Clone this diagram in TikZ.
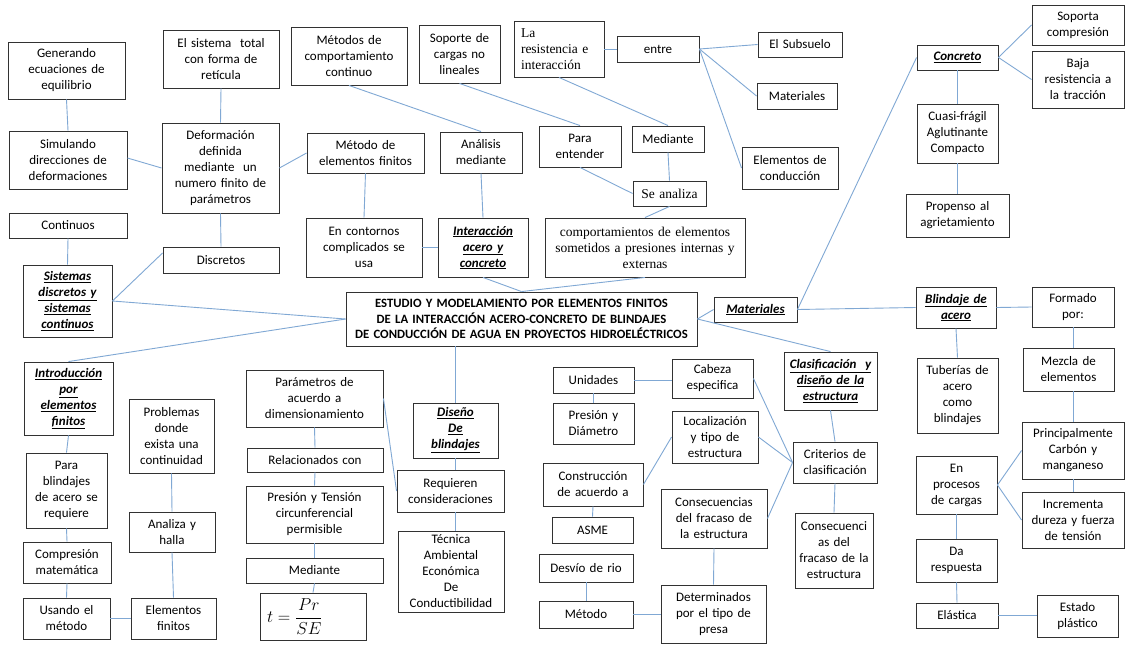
\documentclass[tikz,border=0pt]{standalone}
\usepackage{fontspec}
\setmainfont{Carlito}
\newfontfamily\serifbox{Liberation Serif}
\usetikzlibrary{calc}
\definecolor{lineblue}{RGB}{128,168,212}
\definecolor{boxline}{RGB}{50,50,50}
\tikzset{
  box/.style={draw=boxline,line width=0.9pt,fill=white,align=center,inner xsep=2pt,inner ysep=1pt,
    font=\fontsize{13}{16}\selectfont},
  topic/.style={font=\fontsize{13}{16}\selectfont\bfseries\itshape},
  serifb/.style={font=\fontsize{13.5}{16}\selectfont\serifbox},
  conn/.style={draw=lineblue,line width=0.9pt},
}
\newcommand\mybox[7][]{%
  \pgfmathsetmacro\bxw{#5-#3}%
  \pgfmathsetmacro\bxh{#6-#4}%
  \pgfmathsetmacro\bxt{#5-#3-4}%
  \node[box,minimum width=\bxw pt,minimum height=\bxh pt,text width=\bxt pt,#1] (#2) at ({(#3+#5)/2},{(#4+#6)/2}) {#7};}
\begin{document}
\begin{tikzpicture}[x=1pt,y=-1pt]
\fill[white] (0,0) rectangle (1125,646);
\useasboundingbox (0,0) rectangle (1125,646);
% ---- nodes
\mybox{gen}{8}{42}{125}{99}{Generando\\ecuaciones de\\equilibrio}
\mybox{sist}{163}{30}{279}{88}{El sistema\ \ total\\con forma de\\retícula}
\mybox{metc}{291}{27}{407}{85}{Métodos de\\comportamiento\\continuo}
\mybox{sim}{9}{131}{127}{189}{Simulando\\direcciones de\\deformaciones}
\mybox{def}{162}{123}{279}{213}{Deformación\\definida\\mediante\ \ un\\numero finito de\\parámetros}
\mybox{mef}{307}{133}{424}{173}{Método de\\elementos finitos}
\mybox{cont}{9}{213}{127}{238}{Continuos}
\mybox{disc}{163}{247}{279}{273}{Discretos}
\mybox{encont}{306}{218}{422}{277}{En contornos\\complicados se\\usa}
\mybox[topic]{sisd}{23}{265}{112}{337}{\underline{Sistemas}\\\underline{discretos y}\\\underline{sistemas}\\\underline{continuos}}
\mybox[font=\fontsize{12.7}{15.3}\selectfont\bfseries]{title}{346}{292}{697}{346}{ESTUDIO Y MODELAMIENTO POR ELEMENTOS FINITOS\\DE LA INTERACCIÓN ACERO-CONCRETO DE BLINDAJES\\DE CONDUCCIÓN DE AGUA EN PROYECTOS HIDROELÉCTRICOS}
\mybox{sop}{419}{25}{500}{83}{Soporte de\\cargas no\\lineales}
\mybox[serifb,align=left,inner xsep=7pt,text width=76pt]{lares}{514}{21}{604}{77}{La\\resistencia e\\interacción}
\mybox{entre}{617}{36}{699}{62}{entre}
\mybox{anal}{440}{132}{522}{173}{Análisis\\mediante}
\mybox{para}{539}{126}{621}{167}{Para\\entender}
\mybox{medi}{632}{126}{704}{152}{Mediante}
\mybox[serifb]{sean}{633}{181}{706}{206}{Se analiza}
\mybox[topic]{inter}{438}{218}{528}{277}{\underline{Interacción}\\\underline{acero y}\\\underline{concreto}}
\mybox[serifb]{comp}{545}{218}{745}{277}{comportamientos\ de elementos\\sometidos\ a presiones internas y\\externas}
\mybox{subs}{758}{32}{842}{57}{El Subsuelo}
\mybox{matl}{757}{83}{837}{109}{Materiales}
\mybox{elcond}{742}{147}{838}{189}{Elementos de\\conducción}
\mybox[topic]{mat}{714}{297}{797}{322}{\underline{Materiales}}
% right
\mybox[topic]{conc}{917}{45}{998}{70}{\underline{Concreto}}
\mybox{sopc}{1032}{5}{1124}{45}{Soporta\\compresión}
\mybox{baja}{1032}{51}{1124}{108}{Baja\\resistencia a\\la tracción}
\mybox{cuasi}{917}{104}{998}{163}{Cuasi-frágil\\Aglutinante\\Compacto}
\mybox{prop}{906}{194}{1009}{237}{Propenso al\\agrietamiento}
\mybox[topic]{blin}{916}{287}{996}{328}{\underline{Blindaje de}\\\underline{acero}}
\mybox{form}{1032}{287}{1114}{327}{Formado\\por:}
\mybox{tub}{917}{358}{998}{433}{Tuberías de\\acero\\como\\blindajes}
\mybox{mezc}{1023}{348}{1114}{391}{Mezcla de\\elementos}
\mybox{princ}{1022}{422}{1124}{479}{Principalmente\\Carbón y\\manganeso}
\mybox{incr}{1022}{492}{1124}{548}{Incrementa\\dureza y fuerza\\de tensión}
\mybox{enproc}{916}{456}{997}{514}{En\\procesos\\de cargas}
\mybox{da}{916}{539}{997}{582}{Da\\respuesta}
\mybox{elas}{916}{603}{998}{628}{Elástica}
\mybox{estp}{1037}{595}{1118}{637}{Estado\\plástico}
% middle right
\mybox[topic]{clas}{784}{352}{877}{410}{\underline{Clasificación\ \ y}\\\underline{diseño de la}\\\underline{estructura}}
\mybox{crit}{793}{442}{877}{483}{Criterios de\\clasificación}
\mybox{cons2}{795}{513}{873}{588}{Consecuenci\\as del\\fracaso de la\\estructura}
\mybox{unid}{553}{367}{634}{393}{Unidades}
\mybox{presd}{553}{403}{634}{444}{Presión y\\Diámetro}
\mybox{cab}{672}{359}{753}{398}{Cabeza\\especifica}
\mybox{loc}{672}{411}{758}{463}{Localización\\y tipo de\\estructura}
\mybox{constr}{543}{463}{643}{506}{Construcción\\de acuerdo a}
\mybox{asme}{552}{517}{633}{543}{ASME}
\mybox{cons1}{661}{489}{767}{548}{Consecuencias\\del fracaso de\\la estructura}
\mybox{desv}{539}{554}{633}{582}{Desvío de rio}
\mybox{metod}{539}{601}{633}{628}{Método}
\mybox{det}{661}{585}{766}{643}{Determinados\\por el tipo de\\presa}
% bottom middle
\mybox[topic]{dis}{413}{403}{498}{458}{\underline{Diseño}\\\underline{De}\\\underline{blindajes}}
\mybox{req}{397}{470}{504}{512}{Requieren\\consideraciones}
\mybox{tec}{398}{531}{504}{612}{Técnica\\Ambiental\\Económica\\De\\Conductibilidad}
\mybox{par}{246}{370}{383}{427}{Parámetros de\\acuerdo a\\dimensionamiento}
\mybox{rel}{247}{448}{383}{472}{Relacionados con}
\mybox{pres}{246}{486}{383}{543}{Presión y Tensión\\circunferencial\\permisible}
\mybox{med}{246}{558}{383}{583}{Mediante}
\mybox[font=\fontsize{17}{20}\selectfont,align=left]{formula}{260}{593}{366}{640}{\hspace*{5pt}$\displaystyle t=\frac{Pr}{SE}$}
% bottom left
\mybox[topic]{intro}{24}{362}{113}{435}{\underline{Introducción}\\\underline{por}\\\underline{elementos}\\\underline{finitos}}
\mybox{prob}{129}{399}{214}{473}{Problemas\\donde\\exista una\\continuidad}
\mybox{parab}{26}{453}{107}{528}{Para\\blindajes\\de acero se\\requiere}
\mybox{anh}{129}{512}{215}{552}{Analiza y\\halla}
\mybox{compm}{23}{542}{111}{583}{Compresión\\matemática}
\mybox{usan}{23}{598}{110}{639}{Usando el\\método}
\mybox{elf}{131}{598}{216}{639}{Elementos\\finitos}
% ---- connectors
\begin{scope}[conn]
\draw (gen.south) -- (sim.north);
\draw (sist.south) -- (def.north);
\draw ($(sim.east)+(0,-2)$) -- (def.west);
\draw (def.east) -- ($(mef.west)+(0,-0)$);
\draw (def.south) -- (disc.north);
\draw (cont.south) -- (sisd.north);
\draw ($(disc.west)+(0,-7)$) -- (sisd.east);
\draw (sisd.east) -- (title.west);
\draw (title.west) -- (intro.north);
\draw (mef.south) -- (encont.north);
\draw (metc.south) -- (anal.north);
\draw (anal.south) -- (inter.north);
\draw (encont.east) -- (inter.west);
\draw (inter.south) -- (title.north);
\draw (comp.south) -- (title.north);
\draw (sop.south) -- (para.north);
\draw (lares.south) -- (medi.north);
\draw (lares.east) -- (entre.west);
\draw (para.south) -- (sean.west);
\draw (medi.south) -- (sean.north);
\draw (sean.south) -- (comp.north);
\draw (entre.east) -- (subs.west);
\draw (entre.east) -- (matl.west);
\draw (entre.east) -- (elcond.west);
\draw (title.east) -- (mat.west);
\draw (title.east) -- (clas.north);
\draw (mat.east) -- (conc.west);
\draw (mat.east) -- (blin.west);
\draw (conc.east) -- (sopc.west);
\draw (conc.east) -- (baja.west);
\draw (conc.south) -- (cuasi.north);
\draw (cuasi.south) -- (prop.north);
\draw (blin.east) -- (form.west);
\draw (blin.south) -- (tub.north);
\draw (princ.north |- form.south) -- (princ.north |- mezc.north);
\draw (princ.north |- mezc.south) -- (princ.north);
\draw (princ.south) -- (incr.north);
\draw (enproc.east) -- (princ.west);
\draw (enproc.east) -- (incr.west);
\draw (enproc.south) -- (da.north);
\draw (da.south) -- (elas.north);
\draw (elas.east) -- (elas.east -| estp.west);
\draw (clas.south) -- (crit.north);
\draw (crit.west) -- (cab.east);
\draw (crit.west) -- (loc.east);
\draw (crit.west) -- (cons1.east);
\draw (crit.south) -- (cons2.north);
\draw (unid.east) -- (unid.east -| cab.west);
\draw (unid.south) -- (presd.north);
\draw (constr.east) -- (loc.west);
\draw (constr.south) -- (asme.north);
\draw (cons1.south) -- (det.north);
\draw (desv.south) -- (metod.north);
\draw (metod.east) -- (metod.east -| det.west);
\draw (dis.north |- title.south) -- (dis.north);
\draw (dis.south) -- (dis.south |- req.north);
\draw (dis.south |- req.south) -- (dis.south |- tec.north);
\draw (par.east) -- (req.west);
\draw (par.south) -- (rel.north);
\draw (rel.south) -- (pres.north);
\draw (pres.south) -- (med.north);
\draw (med.south) -- (formula.north);
\draw (intro.south) -- (parab.north);
\draw (parab.south) -- (compm.north);
\draw (compm.south) -- (usan.north);
\draw (usan.east) -- (elf.west);
\draw (prob.south) -- (anh.north);
\draw (anh.south) -- (elf.north);
\end{scope}
\end{tikzpicture}
\end{document}
